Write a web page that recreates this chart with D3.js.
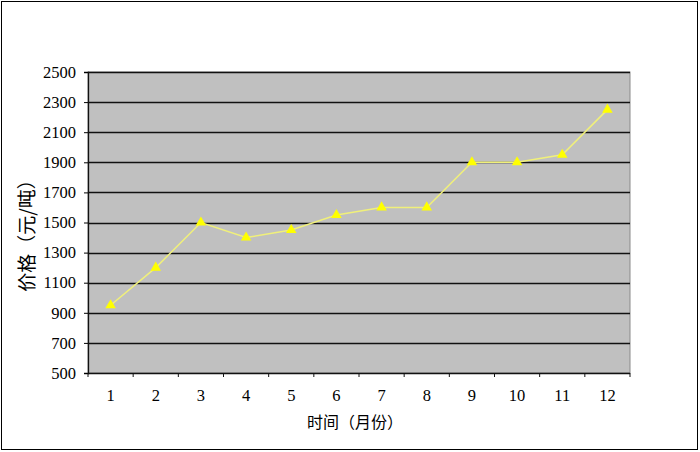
<!DOCTYPE html>
<html><head><meta charset="utf-8">
<script src="https://cdn.jsdelivr.net/npm/d3@7"></script>
<style>body{margin:0;background:#fff}svg{display:block}</style>
</head><body>
<svg id="c" width="700" height="452"></svg>
<script>
const months = ["1","2","3","4","5","6","7","8","9","10","11","12"];
const prices = [950,1200,1500,1400,1450,1550,1600,1600,1900,1900,1950,2250];
const yTicks = [500,700,900,1100,1300,1500,1700,1900,2100,2300,2500];
const xTitle = "时间（月份）";
const yTitle = "价格（元/吨）";

const svg = d3.select("#c");
const m = {l:88, r:630, t:72, b:373};
svg.append("rect").attr("x",1.5).attr("y",1.5).attr("width",696).attr("height",448)
  .attr("fill","#fff").attr("stroke","#000").attr("stroke-width",1);

const x = d3.scaleBand().domain(months).range([m.l,m.r]);
const y = d3.scaleLinear().domain([500,2500]).range([m.b,m.t]);

svg.append("rect").attr("x",m.l).attr("y",m.t).attr("width",m.r-m.l).attr("height",m.b-m.t)
  .attr("fill","#c0c0c0").attr("stroke","#8a8a8a");

// gridlines
svg.append("g").selectAll("line").data(yTicks.filter(d=>d>500)).join("line")
  .attr("x1",m.l).attr("x2",m.r).attr("y1",d=>Math.round(y(d))+0.5).attr("y2",d=>Math.round(y(d))+0.5)
  .attr("stroke","#111").attr("stroke-width",1.3);

// y axis
const ya = svg.append("g").attr("transform",`translate(${m.l},0)`)
  .call(d3.axisLeft(y).tickValues(yTicks).tickSize(4).tickPadding(8).tickFormat(d3.format("d")));
ya.select(".domain").attr("stroke","#111").attr("stroke-width",1.3);
ya.selectAll("text").attr("font-family","'Liberation Serif', serif").attr("font-size",16.5).attr("fill","#000");

// x axis
const boundaries = months.map(d=>x(d)).concat([m.r]);
const xa = svg.append("g").attr("transform",`translate(0,${m.b})`);
xa.append("line").attr("x1",m.l).attr("x2",m.r).attr("y1",0.5).attr("y2",0.5).attr("stroke","#111").attr("stroke-width",1.3);
xa.selectAll("line.t").data(boundaries).join("line").attr("class","t")
  .attr("x1",d=>d).attr("x2",d=>d).attr("y1",0).attr("y2",4).attr("stroke","#111");
xa.selectAll("text").data(months).join("text")
  .attr("x",d=>x(d)+x.bandwidth()/2).attr("y",28).attr("text-anchor","middle")
  .attr("font-family","'Liberation Serif', serif").attr("font-size",16.5).text(d=>d);

// line
const pts = months.map((d,i)=>[x(d)+x.bandwidth()/2, y(prices[i])]);
svg.append("path").attr("d",d3.line()(pts)).attr("fill","none").attr("stroke","#f0f07a").attr("stroke-width",1.5);
svg.append("g").selectAll("path").data(pts).join("path")
  .attr("transform",d=>`translate(${d[0]},${d[1]})`)
  .attr("d",d3.symbol(d3.symbolTriangle,48)).attr("fill","#ffff00");

// titles
svg.append("text").attr("x",355).attr("y",428).attr("text-anchor","middle")
  .attr("font-family","'Noto Sans CJK SC', sans-serif").attr("font-size",16).text(xTitle);
svg.append("text").attr("transform","translate(34,231) rotate(-90)").attr("text-anchor","middle")
  .attr("font-family","'Noto Sans CJK SC', sans-serif").attr("font-size",19).text(yTitle);
</script>
</body></html>
